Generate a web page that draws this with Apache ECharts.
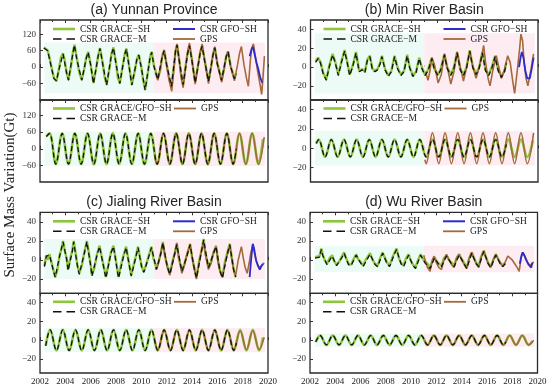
<!DOCTYPE html>
<html>
<head>
<meta charset="utf-8">
<script src="https://cdn.jsdelivr.net/npm/echarts@6/dist/echarts.min.js"></script>
<style>
  html, body { margin: 0; background: #fff; }
  #chart { width: 550px; height: 386px; }
</style>
</head>
<body>
<div id="chart"></div>
<script>
// ---- (a) Yunnan Province ----
const aSH = [[2002.3,72],[2002.45,74],[2002.6,62],[2002.75,35],[2002.95,-10],[2003.1,-40],[2003.3,-52],[2003.5,-5],[2003.65,35],[2003.82,50],[2003.95,25],[2004.1,-20],[2004.25,-46],[2004.45,5],[2004.6,55],[2004.72,82],[2004.9,35],[2005.1,-20],[2005.3,-46],[2005.5,-5],[2005.65,35],[2005.8,56],[2006.0,10],[2006.22,-58],[2006.45,0],[2006.6,45],[2006.74,70],[2006.95,15],[2007.1,-35],[2007.26,-64],[2007.5,0],[2007.65,50],[2007.8,72],[2008.0,15],[2008.15,-40],[2008.3,-58],[2008.55,10],[2008.7,50],[2008.82,68],[2009.0,15],[2009.25,-64],[2009.5,-10],[2009.65,30],[2009.8,45],[2010.0,0],[2010.15,-50],[2010.3,-82],[2010.55,-10],[2010.7,40],[2010.82,56],[2011.0,5],[2011.3,-42],[2011.5,-10],[2011.65,40],[2011.8,63],[2012.0,10],[2012.2,-40],[2012.38,-68],[2012.6,15],[2012.7,60],[2012.82,82],[2013.0,25],[2013.15,-30],[2013.3,-62],[2013.5,5],[2013.65,50],[2013.8,80],[2014.0,25],[2014.25,-55],[2014.45,0],[2014.65,55],[2014.8,78],[2015.0,25],[2015.3,-50],[2015.5,0],[2015.65,45],[2015.8,72],[2016.0,15],[2016.33,-46],[2016.55,0],[2016.7,40],[2016.85,57],[2017.05,5],[2017.35,-40],[2017.5,-22]];
const aM = [[2002.3,70],[2002.45,72],[2002.6,60],[2002.75,30],[2003.1,-42],[2003.3,-50],[2003.5,-8],[2003.82,48],[2004.1,-22],[2004.25,-48],[2004.6,52],[2004.72,80],[2004.9,30],[2005.3,-48],[2005.65,32],[2005.8,54],[2006.0,8],[2006.22,-60],[2006.6,42],[2006.74,68],[2006.95,12],[2007.26,-66],[2007.65,48],[2007.8,70],[2008.0,12],[2008.3,-60],[2008.7,48],[2008.82,66],[2009.0,12],[2009.25,-66],[2009.65,28],[2009.8,44],[2010.0,-2],[2010.3,-84],[2010.7,38],[2010.82,54],[2011.0,2],[2011.3,-45],[2011.65,38],[2011.8,60],[2012.0,8],[2012.38,-70],[2012.7,58],[2012.82,80],[2013.0,22],[2013.3,-64],[2013.65,48],[2013.8,78],[2014.0,22],[2014.25,-57],[2014.65,52],[2014.8,76],[2015.0,22],[2015.3,-52],[2015.65,42],[2015.8,70],[2016.0,12],[2016.33,-48],[2016.7,38],[2016.85,55],[2017.05,2],[2017.35,-42],[2017.5,-25]];
const aGPS = [[2011.1,-20],[2011.3,-48],[2011.5,-5],[2011.65,40],[2011.8,60],[2012.0,5],[2012.2,-50],[2012.4,-88],[2012.55,-20],[2012.7,60],[2012.82,85],[2013.0,20],[2013.15,-40],[2013.3,-75],[2013.5,0],[2013.65,55],[2013.8,88],[2014.0,25],[2014.25,-62],[2014.45,-5],[2014.65,55],[2014.8,85],[2015.0,25],[2015.3,-60],[2015.5,-5],[2015.65,45],[2015.8,75],[2016.0,10],[2016.35,-55],[2016.55,-5],[2016.7,40],[2016.85,58],[2017.05,0],[2017.35,-50],[2017.6,10],[2017.75,50],[2017.9,75],[2018.1,10],[2018.3,-40],[2018.45,-70],[2018.6,20],[2018.72,70],[2018.85,85],[2019.0,40],[2019.2,-20],[2019.4,-70],[2019.5,-100],[2019.6,-40],[2019.72,40]];
const aGFO = [[2018.55,40],[2018.7,65],[2018.82,74],[2018.95,45],[2019.1,15],[2019.25,-10],[2019.4,-40],[2019.55,-57]];
const aFitSH = [[2002.5,45],[2002.75,56],[2003.25,-55],[2003.75,55],[2004.25,-55],[2004.75,56],[2005.25,-55],[2005.75,55],[2006.25,-56],[2006.75,55],[2007.25,-55],[2007.75,56],[2008.25,-55],[2008.75,55],[2009.25,-55],[2009.75,55],[2010.25,-56],[2010.75,55],[2011.25,-55],[2011.75,55],[2012.25,-55],[2012.75,56],[2013.25,-55],[2013.75,55],[2014.25,-55],[2014.75,55],[2015.25,-56],[2015.75,55],[2016.25,-55],[2016.75,55],[2017.25,-55],[2017.75,55],[2018.25,-55],[2018.75,55],[2019.25,-55],[2019.6,35]];
const aFitM = [[2002.5,44],[2002.75,55],[2003.25,-55],[2003.75,55],[2004.25,-55],[2004.75,55],[2005.25,-55],[2005.75,55],[2006.25,-55],[2006.75,55],[2007.25,-55],[2007.75,55],[2008.25,-55],[2008.75,55],[2009.25,-55],[2009.75,55],[2010.25,-55],[2010.75,55],[2011.25,-55],[2011.75,55],[2012.25,-55],[2012.75,55],[2013.25,-55],[2013.75,55],[2014.25,-55],[2014.75,55],[2015.25,-55],[2015.75,55],[2016.25,-55],[2016.75,55],[2017.25,-55],[2017.5,0]];
const aFitGPS = [[2011.05,-30],[2011.25,-56],[2011.75,56],[2012.25,-56],[2012.75,56],[2013.25,-56],[2013.75,56],[2014.25,-56],[2014.75,56],[2015.25,-56],[2015.75,56],[2016.25,-56],[2016.75,56],[2017.25,-56],[2017.75,56],[2018.25,-56],[2018.75,56],[2019.25,-56],[2019.7,42]];

// ---- (b) Min River Basin ----
const bSH = [[2002.4,6],[2002.6,10],[2002.8,5],[2003.0,-6],[2003.25,-13],[2003.5,2],[2003.75,14],[2003.95,6],[2004.2,-8],[2004.45,6],[2004.7,18],[2004.9,6],[2005.1,-8],[2005.35,2],[2005.6,16],[2005.85,-4],[2006.1,-2],[2006.3,-5],[2006.5,8],[2006.7,12],[2006.9,-2],[2007.1,-4],[2007.3,-2],[2007.5,4],[2007.65,12],[2007.9,-2],[2008.15,-9],[2008.4,-4],[2008.65,12],[2008.9,-1],[2009.15,-8],[2009.4,-4],[2009.65,13],[2009.85,0],[2010.1,-9],[2010.35,-5],[2010.6,10],[2010.8,0],[2011.05,-8],[2011.3,-3],[2011.6,10],[2011.8,-2],[2012.1,-8],[2012.3,-2],[2012.6,14],[2012.8,0],[2013.1,-8],[2013.35,0],[2013.6,16],[2013.85,-2],[2014.1,-8],[2014.35,0],[2014.6,18],[2014.85,0],[2015.1,-7],[2015.35,0],[2015.6,16],[2015.85,-3],[2016.1,-8],[2016.35,0],[2016.6,12],[2016.85,-3],[2017.1,-10],[2017.35,-4],[2017.5,5]];
const bM = [[2002.4,5],[2002.6,9],[2002.8,4],[2003.0,-7],[2003.25,-14],[2003.5,1],[2003.75,13],[2003.95,5],[2004.2,-9],[2004.45,5],[2004.7,17],[2004.9,5],[2005.1,-9],[2005.35,1],[2005.6,15],[2005.85,-5],[2006.1,-3],[2006.3,-6],[2006.5,7],[2006.7,11],[2006.9,-3],[2007.1,-5],[2007.3,-3],[2007.5,3],[2007.65,11],[2007.9,-3],[2008.15,-10],[2008.4,-5],[2008.65,11],[2008.9,-2],[2009.15,-9],[2009.4,-5],[2009.65,12],[2009.85,-1],[2010.1,-10],[2010.35,-6],[2010.6,9],[2010.8,-1],[2011.05,-9],[2011.3,-4],[2011.6,9],[2011.8,-3],[2012.1,-9],[2012.3,-3],[2012.6,13],[2012.8,-1],[2013.1,-9],[2013.35,-1],[2013.6,15],[2013.85,-3],[2014.1,-9],[2014.35,-1],[2014.6,17],[2014.85,-1],[2015.1,-8],[2015.35,-1],[2015.6,15],[2015.85,-4],[2016.1,-9],[2016.35,-1],[2016.6,11],[2016.85,-4],[2017.1,-11],[2017.35,-5],[2017.5,4]];
const bGPS = [[2011.1,-5],[2011.3,-14],[2011.45,-4],[2011.6,10],[2011.8,3],[2012.1,-17],[2012.35,-8],[2012.6,14],[2012.85,-2],[2013.1,-18],[2013.35,-5],[2013.6,16],[2013.85,0],[2014.1,-15],[2014.35,0],[2014.6,16],[2014.85,0],[2015.1,-12],[2015.35,0],[2015.55,12],[2015.7,23],[2015.85,5],[2016.05,-12],[2016.2,-20],[2016.45,-2],[2016.7,12],[2016.9,0],[2017.1,-12],[2017.35,-3],[2017.6,12],[2017.8,5],[2018.0,-15],[2018.15,-28],[2018.35,-5],[2018.55,20],[2018.65,35],[2018.78,28],[2018.9,5],[2019.05,-12],[2019.2,-20],[2019.45,-2],[2019.65,14]];
const bGFO = [[2018.5,0],[2018.62,10],[2018.72,16],[2018.85,10],[2019.0,-4],[2019.15,-12],[2019.35,-12],[2019.5,-2],[2019.65,10]];
const bFitSH = [[2002.45,5],[2002.65,9],[2003.15,-9],[2003.65,9],[2004.15,-9],[2004.65,9],[2005.15,-9],[2005.65,9],[2006.15,-9],[2006.65,9],[2007.15,-9],[2007.65,9],[2008.15,-9],[2008.65,9],[2009.15,-9],[2009.65,9],[2010.15,-9],[2010.65,9],[2011.15,-9],[2011.65,9],[2012.15,-9],[2012.65,9],[2013.15,-9],[2013.65,9],[2014.15,-9],[2014.65,9],[2015.15,-9],[2015.65,9],[2016.15,-9],[2016.65,9],[2017.15,-9],[2017.65,9],[2018.15,-9],[2018.65,9],[2019.15,-9],[2019.6,8]];
const bFitM = [[2002.45,5],[2002.65,9],[2003.15,-9],[2003.65,9],[2004.15,-9],[2004.65,9],[2005.15,-9],[2005.65,9],[2006.15,-9],[2006.65,9],[2007.15,-9],[2007.65,9],[2008.15,-9],[2008.65,9],[2009.15,-9],[2009.65,9],[2010.15,-9],[2010.65,9],[2011.15,-9],[2011.65,9],[2012.15,-9],[2012.65,9],[2013.15,-9],[2013.65,9],[2014.15,-9],[2014.65,9],[2015.15,-9],[2015.65,9],[2016.15,-9],[2016.65,9],[2017.15,-9],[2017.5,4]];
const bFitGPS = [[2011.05,-12],[2011.15,-16],[2011.65,16],[2012.15,-16],[2012.65,16],[2013.15,-16],[2013.65,16],[2014.15,-16],[2014.65,16],[2015.15,-16],[2015.65,16],[2016.15,-16],[2016.65,16],[2017.15,-16],[2017.65,16],[2018.15,-16],[2018.65,16],[2019.15,-16],[2019.65,16]];

// ---- (c) Jialing River Basin ----
const cSH = [[2002.35,-6],[2002.5,5],[2002.6,0],[2002.75,6],[2002.9,-2],[2003.05,-10],[2003.2,-18],[2003.35,-12],[2003.55,5],[2003.7,12],[2003.82,20],[2003.95,10],[2004.1,2],[2004.22,-10],[2004.4,2],[2004.55,10],[2004.66,20],[2004.8,8],[2004.95,-5],[2005.1,-14],[2005.3,-6],[2005.5,8],[2005.7,20],[2005.85,8],[2006.0,-5],[2006.1,-16],[2006.3,-8],[2006.5,6],[2006.7,15],[2006.85,5],[2007.05,-8],[2007.2,-18],[2007.4,-5],[2007.6,8],[2007.8,15],[2007.95,3],[2008.2,-18],[2008.4,-5],[2008.6,5],[2008.8,14],[2008.95,2],[2009.2,-16],[2009.4,-5],[2009.55,3],[2009.74,14],[2009.9,2],[2010.05,-8],[2010.2,-12],[2010.4,-4],[2010.6,5],[2010.8,14],[2010.95,2],[2011.2,-9],[2011.4,0],[2011.55,8],[2011.7,19],[2011.85,5],[2012.05,-6],[2012.25,-14],[2012.45,-2],[2012.65,8],[2012.8,17],[2012.95,2],[2013.2,-11],[2013.4,-4],[2013.6,5],[2013.85,17],[2014.0,3],[2014.15,-6],[2014.35,-18],[2014.55,-2],[2014.75,10],[2014.92,22],[2015.05,8],[2015.3,-7],[2015.5,-2],[2015.7,8],[2015.9,15],[2016.05,0],[2016.2,-10],[2016.4,-18],[2016.6,-2],[2016.8,8],[2016.98,17],[2017.15,2],[2017.3,-10],[2017.45,-18]];
const cM = [[2002.35,-7],[2002.5,4],[2002.75,5],[2003.05,-11],[2003.2,-18],[2003.55,4],[2003.82,19],[2004.1,1],[2004.22,-11],[2004.55,9],[2004.66,19],[2004.95,-6],[2005.1,-15],[2005.5,7],[2005.7,19],[2006.0,-6],[2006.1,-17],[2006.5,5],[2006.7,14],[2007.05,-9],[2007.2,-19],[2007.6,7],[2007.8,14],[2008.2,-19],[2008.6,4],[2008.8,13],[2009.2,-17],[2009.55,2],[2009.74,13],[2010.05,-9],[2010.2,-13],[2010.6,4],[2010.8,13],[2011.2,-10],[2011.55,7],[2011.7,18],[2012.05,-7],[2012.25,-15],[2012.65,7],[2012.8,16],[2013.2,-12],[2013.6,4],[2013.85,16],[2014.15,-7],[2014.35,-19],[2014.75,9],[2014.92,21],[2015.3,-8],[2015.7,7],[2015.9,14],[2016.2,-11],[2016.4,-19],[2016.8,7],[2016.98,16],[2017.3,-11],[2017.45,-18]];
const cGPS = [[2011.1,-10],[2011.3,-6],[2011.5,5],[2011.7,18],[2011.85,6],[2012.05,-8],[2012.25,-16],[2012.45,-4],[2012.65,8],[2012.8,18],[2012.95,4],[2013.2,-14],[2013.4,-6],[2013.6,6],[2013.85,16],[2014.0,4],[2014.15,-8],[2014.35,-20],[2014.55,-4],[2014.75,10],[2014.92,18],[2015.05,6],[2015.3,-10],[2015.5,-4],[2015.7,8],[2015.9,14],[2016.05,-2],[2016.2,-12],[2016.4,-18],[2016.6,-4],[2016.8,6],[2016.98,15],[2017.15,0],[2017.3,-12],[2017.45,-16],[2017.65,0],[2017.9,14],[2018.05,2],[2018.2,-8],[2018.36,-14],[2018.5,-4],[2018.65,8],[2018.8,16],[2018.95,6],[2019.1,-2],[2019.3,-8],[2019.5,-6],[2019.7,-3]];
const cGFO = [[2018.55,-18],[2018.7,5],[2018.8,17],[2018.9,12],[2019.05,0],[2019.2,-6],[2019.35,-10],[2019.5,-6],[2019.6,-4]];
const cFitSH = [[2002.45,-6],[2002.8,11],[2003.3,-11],[2003.8,11],[2004.3,-11],[2004.8,11],[2005.3,-11],[2005.8,11],[2006.3,-11],[2006.8,11],[2007.3,-11],[2007.8,11],[2008.3,-11],[2008.8,11],[2009.3,-11],[2009.8,11],[2010.3,-11],[2010.8,11],[2011.3,-11],[2011.8,11],[2012.3,-11],[2012.8,11],[2013.3,-11],[2013.8,11],[2014.3,-11],[2014.8,11],[2015.3,-11],[2015.8,11],[2016.3,-11],[2016.8,11],[2017.3,-11],[2017.8,11],[2018.3,-11],[2018.8,11],[2019.3,-11],[2019.6,3]];
const cFitM = [[2002.45,-6],[2002.8,11],[2003.3,-11],[2003.8,11],[2004.3,-11],[2004.8,11],[2005.3,-11],[2005.8,11],[2006.3,-11],[2006.8,11],[2007.3,-11],[2007.8,11],[2008.3,-11],[2008.8,11],[2009.3,-11],[2009.8,11],[2010.3,-11],[2010.8,11],[2011.3,-11],[2011.8,11],[2012.3,-11],[2012.8,11],[2013.3,-11],[2013.8,11],[2014.3,-11],[2014.8,11],[2015.3,-11],[2015.8,11],[2016.3,-11],[2016.8,11],[2017.3,-11],[2017.5,-3]];
const cFitGPS = [[2011.05,0],[2011.3,-10],[2011.8,10],[2012.3,-10],[2012.8,10],[2013.3,-10],[2013.8,10],[2014.3,-10],[2014.8,10],[2015.3,-10],[2015.8,10],[2016.3,-10],[2016.8,10],[2017.3,-10],[2017.8,10],[2018.3,-10],[2018.8,10],[2019.3,-10],[2019.7,3]];

// ---- (d) Wu River Basin ----
const dSH = [[2002.4,3],[2002.55,5],[2002.75,4],[2002.9,12],[2003.0,6],[2003.15,0],[2003.35,-4],[2003.55,2],[2003.75,5],[2003.9,-1],[2004.1,-5],[2004.3,-2],[2004.5,3],[2004.7,8],[2004.85,2],[2005.05,-4],[2005.25,-5],[2005.45,1],[2005.65,6],[2005.8,1],[2006.0,-2],[2006.2,-6],[2006.4,0],[2006.6,4],[2006.75,7],[2006.95,0],[2007.15,-4],[2007.35,-6],[2007.55,2],[2007.75,8],[2007.9,3],[2008.1,-3],[2008.3,-6],[2008.5,2],[2008.7,8],[2008.85,12],[2009.0,3],[2009.2,-3],[2009.4,-6],[2009.6,2],[2009.8,6],[2009.95,0],[2010.15,-5],[2010.35,-8],[2010.55,0],[2010.75,6],[2010.9,2],[2011.1,-2],[2011.3,-4],[2011.5,-8],[2011.7,0],[2011.85,3],[2012.0,-1],[2012.2,-4],[2012.4,-6],[2012.6,2],[2012.8,5],[2013.0,0],[2013.2,-3],[2013.4,-6],[2013.6,2],[2013.8,6],[2014.0,1],[2014.2,-3],[2014.4,-8],[2014.6,2],[2014.8,8],[2014.95,3],[2015.15,-3],[2015.35,-6],[2015.55,4],[2015.75,10],[2015.9,4],[2016.1,-3],[2016.3,-7],[2016.5,0],[2016.7,6],[2016.85,2],[2017.05,-3],[2017.25,-6],[2017.45,-3]];
const dM = [[2002.4,2],[2002.55,4],[2002.75,3],[2002.9,11],[2003.0,5],[2003.35,-5],[2003.75,4],[2004.1,-6],[2004.5,2],[2004.7,7],[2005.05,-5],[2005.25,-6],[2005.65,5],[2006.0,-3],[2006.2,-7],[2006.75,6],[2007.15,-5],[2007.35,-7],[2007.75,7],[2008.1,-4],[2008.3,-7],[2008.7,7],[2008.85,11],[2009.2,-4],[2009.4,-7],[2009.8,5],[2010.15,-6],[2010.35,-9],[2010.75,5],[2011.1,-3],[2011.5,-9],[2011.85,2],[2012.2,-5],[2012.4,-7],[2012.8,4],[2013.2,-4],[2013.4,-7],[2013.8,5],[2014.2,-4],[2014.4,-9],[2014.8,7],[2015.15,-4],[2015.35,-7],[2015.75,9],[2016.1,-4],[2016.3,-8],[2016.7,5],[2017.05,-4],[2017.25,-7],[2017.45,-4]];
const dGPS = [[2011.0,5],[2011.15,-2],[2011.3,-8],[2011.5,-12],[2011.65,-2],[2011.8,4],[2012.0,-3],[2012.2,-8],[2012.4,-10],[2012.6,0],[2012.8,6],[2013.0,0],[2013.2,-5],[2013.4,-8],[2013.6,2],[2013.8,6],[2014.0,0],[2014.2,-5],[2014.4,-9],[2014.6,2],[2014.8,8],[2014.95,2],[2015.15,-4],[2015.35,-8],[2015.55,3],[2015.75,9],[2015.9,3],[2016.1,-4],[2016.3,-8],[2016.5,0],[2016.7,6],[2016.85,2],[2017.05,-3],[2017.25,-7],[2017.45,-2],[2017.65,4],[2017.8,6],[2018.0,0],[2018.2,-4],[2018.4,-8],[2018.55,-12],[2018.7,2],[2018.85,8],[2019.0,4],[2019.2,-2],[2019.4,-6],[2019.55,-5],[2019.7,-2]];
const dGFO = [[2018.6,-4],[2018.72,4],[2018.82,8],[2018.95,5],[2019.1,0],[2019.3,-5],[2019.5,-8],[2019.6,-3]];
const dFitSH = [[2002.45,-2],[2002.8,5],[2003.3,-5],[2003.8,5],[2004.3,-5],[2004.8,5],[2005.3,-5],[2005.8,5],[2006.3,-5],[2006.8,5],[2007.3,-5],[2007.8,5],[2008.3,-5],[2008.8,5],[2009.3,-5],[2009.8,5],[2010.3,-5],[2010.8,5],[2011.3,-5],[2011.8,5],[2012.3,-5],[2012.8,5],[2013.3,-5],[2013.8,5],[2014.3,-5],[2014.8,5],[2015.3,-5],[2015.8,5],[2016.3,-5],[2016.8,5],[2017.3,-5],[2017.8,5],[2018.3,-5],[2018.8,5],[2019.3,-5],[2019.6,-1]];
const dFitM = [[2002.45,-2],[2002.8,5],[2003.3,-5],[2003.8,5],[2004.3,-5],[2004.8,5],[2005.3,-5],[2005.8,5],[2006.3,-5],[2006.8,5],[2007.3,-5],[2007.8,5],[2008.3,-5],[2008.8,5],[2009.3,-5],[2009.8,5],[2010.3,-5],[2010.8,5],[2011.3,-5],[2011.8,5],[2012.3,-5],[2012.8,5],[2013.3,-5],[2013.8,5],[2014.3,-5],[2014.8,5],[2015.3,-5],[2015.8,5],[2016.3,-5],[2016.8,5],[2017.3,-5],[2017.5,-2]];
const dFitGPS = [[2011.05,0],[2011.3,-5],[2011.8,5],[2012.3,-5],[2012.8,5],[2013.3,-5],[2013.8,5],[2014.3,-5],[2014.8,5],[2015.3,-5],[2015.8,5],[2016.3,-5],[2016.8,5],[2017.3,-5],[2017.8,5],[2018.3,-5],[2018.8,5],[2019.3,-5],[2019.7,0]];

// tick labels
const yTicksYunnan = [-60, 0, 60, 120];
const yTicksBasin = [-20, 0, 20, 40];
const yearMin = 2002, yearMax = 2020, yearStep = 2;

const NAME = { sh: 'CSR GRACE−SH', m: 'CSR GRACE−M', gfo: 'CSR GFO−SH', gps: 'GPS', fit: 'CSR GRACE/GFO−SH' };
const COL = { sh: '#8cc63e', m: '#111111', gfo: '#2b2bcc', gps: '#a4693c' };
const SERIF = '"Liberation Serif", "DejaVu Serif", serif';

// legend icons: plain strokes (no symbol), dashed for GRACE-M
const ICON = {};
ICON[NAME.sh] = 'path://M0,0M22,10M0,3.7h22v2.6h-22z';
ICON[NAME.fit] = ICON[NAME.sh];
ICON[NAME.gfo] = 'path://M0,0M22,10M0,4h22v2h-22z';
ICON[NAME.gps] = 'path://M0,0M22,10M0,4.1h22v1.8h-22z';
ICON[NAME.m] = 'path://M0,0M22,10M0,4.3h8.5v1.4h-8.5zM13.5,4.3h8.5v1.4h-8.5z';

const panels = [
  { title: '(a) Yunnan Province', left: 40, width: 228, top: 20, h: [80, 82], yr: [[-120, 172], [-120, 176]], ticks: yTicksYunnan,
    top_: { sh: aSH, m: aM, gps: aGPS, gfo: aGFO }, bot: { sh: aFitSH, m: aFitM, gps: aFitGPS }, shade: [[-95, 90], [-62, 62]] },
  { title: '(b) Min River Basin', left: 310.5, width: 227.5, top: 20, h: [80, 82], yr: [[-35, 50], [-35, 50]], ticks: yTicksBasin,
    top_: { sh: bSH, m: bM, gps: bGPS, gfo: bGFO }, bot: { sh: bFitSH, m: bFitM, gps: bFitGPS }, shade: [[-28, 36], [-18, 18]] },
  { title: '(c) Jialing River Basin', left: 40, width: 228, top: 212.3, h: [81, 80.7], yr: [[-35, 50], [-35, 50]], ticks: yTicksBasin,
    top_: { sh: cSH, m: cM, gps: cGPS, gfo: cGFO }, bot: { sh: cFitSH, m: cFitM, gps: cFitGPS }, shade: [[-20, 22], [-13, 13]] },
  { title: '(d) Wu River Basin', left: 310, width: 227.5, top: 212.3, h: [81, 80.7], yr: [[-35, 50], [-35, 50]], ticks: yTicksBasin,
    top_: { sh: dSH, m: dM, gps: dGPS, gfo: dGFO }, bot: { sh: dFitSH, m: dFitM, gps: dFitGPS }, shade: [[-13, 15], [-7, 7]] }
];

const grid = [], xAxis = [], yAxis = [], series = [], legend = [], graphic = [];
const minus = v => String(v).replace('-', '−');

function line(name, data, gi, color, width, extra) {
  return Object.assign({
    type: 'line', name, data, xAxisIndex: gi * 2, yAxisIndex: gi,
    symbol: 'none', showSymbol: false, silent: true, animation: false,
    lineStyle: { color, width }, itemStyle: { color }
  }, extra || {});
}

function legendCol(names, left, top) {
  return {
    orient: 'vertical', left, top, padding: 0, itemGap: 0, itemWidth: 22, itemHeight: 10,
    selectedMode: false, itemStyle: { borderWidth: 0 },
    data: names.map(n => ({ name: n, icon: ICON[n] })),
    textStyle: { fontFamily: SERIF, fontSize: 9.5, color: '#222', lineHeight: 10 }
  };
}

panels.forEach((p, pi) => {
  graphic.push({
    type: 'text', x: p.left + p.width / 2, y: p.top - 10, z: 1000,
    style: { text: p.title, font: '14px "Liberation Sans", Arial, sans-serif', fill: '#222',
      align: 'center', verticalAlign: 'middle', textAlign: 'center', textVerticalAlign: 'middle' }
  });
  [0, 1].forEach(s => {
    const gi = pi * 2 + s;
    const gTop = s === 0 ? p.top : p.top + p.h[0];
    grid.push({ left: p.left, top: gTop, width: p.width, height: p.h[s], show: true,
      borderColor: '#2a2a2a', borderWidth: 1.3, backgroundColor: 'transparent' });
    const xBase = {
      gridIndex: gi, type: 'value', min: yearMin, max: yearMax, interval: yearStep,
      axisLine: { show: false }, splitLine: { show: false },
      axisTick: { inside: true, length: 3, lineStyle: { color: '#333' } },
      minorTick: { show: true, splitNumber: 2, length: 2, lineStyle: { color: '#333' } }
    };
    xAxis.push(Object.assign({}, xBase, { position: 'bottom',
      axisLabel: { show: pi >= 2 && s === 1, formatter: v => String(v), fontFamily: SERIF, fontSize: 9, color: '#222', margin: 4 } }));
    xAxis.push(Object.assign({}, xBase, { position: 'top', axisLabel: { show: false } }));
    // tick labels of the value axes are placed below through the axis scale (convertToPixel)
    yAxis.push({
      gridIndex: gi, type: 'value', min: p.yr[s][0], max: p.yr[s][1],
      axisLine: { show: false }, splitLine: { show: false },
      axisTick: { inside: true, length: 3, customValues: p.ticks, lineStyle: { color: '#333' } },
      axisLabel: { show: false }
    });

    const sh = s === 0 ? p.shade[0] : p.shade[1];
    const markArea = {
      silent: true,
      data: [
        [{ xAxis: 2002.35, yAxis: sh[0], itemStyle: { color: '#ecfbf6' } }, { xAxis: 2011, yAxis: sh[1] }],
        [{ xAxis: 2011, yAxis: sh[0], itemStyle: { color: '#fdedf2' } }, { xAxis: 2019.75, yAxis: sh[1] }]
      ]
    };
    if (s === 0) {
      const d = p.top_;
      series.push(line(NAME.sh, d.sh, gi, COL.sh, 2.4, { markArea }));
      series.push(line(NAME.gps, d.gps, gi, COL.gps, 1.6));
      series.push(line(NAME.gfo, d.gfo, gi, COL.gfo, 1.8));
      series.push(line(NAME.m, d.m, gi, COL.m, 1.3, { lineStyle: { color: COL.m, width: 1.3, type: [5, 3] } }));
      legend.push(legendCol([NAME.sh, NAME.m], p.left + 13, gTop + 4));
      legend.push(legendCol([NAME.gfo, NAME.gps], p.left + 133, gTop + 4));
    } else {
      const d = p.bot;
      series.push(line(NAME.fit, d.sh, gi, COL.sh, 2.6, { smooth: 0.36, markArea }));
      series.push(line(NAME.gps, d.gps, gi, COL.gps, 1.6, { smooth: 0.36 }));
      series.push(line(NAME.m, d.m, gi, COL.m, 1.3, { smooth: 0.36, lineStyle: { color: COL.m, width: 1.3, type: [5, 3] } }));
      legend.push(legendCol([NAME.fit, NAME.m], p.left + 13, gTop + 3.5));
      legend.push(legendCol([NAME.gps], p.left + 134, gTop + 3.5));
    }
  });
});

graphic.push({
  type: 'text', x: 10, y: 195, rotation: Math.PI / 2, z: 1000,
  style: { text: 'Surface Mass Variation(Gt)', font: '15px ' + SERIF, fill: '#222',
    align: 'center', verticalAlign: 'middle', textAlign: 'center', textVerticalAlign: 'middle' }
});

const chart = echarts.init(document.getElementById('chart'), null, { renderer: 'canvas' });
chart.setOption({
  animation: false,
  backgroundColor: '#fff',
  grid, xAxis, yAxis, series, legend, graphic
});

// value-axis tick labels, positioned with the axis scale of each grid, drawn on top
panels.forEach((p, pi) => {
  [0, 1].forEach(s => {
    const gi = pi * 2 + s;
    p.ticks.forEach(v => {
      const pt = chart.convertToPixel({ xAxisIndex: gi * 2, yAxisIndex: gi }, [yearMin, v]);
      graphic.push({
        type: 'text', x: pt[0] - 4, y: pt[1], silent: true, z: 1000,
        style: { text: minus(v), font: '9px ' + SERIF, fill: '#333',
          align: 'right', verticalAlign: 'middle', textAlign: 'right', textVerticalAlign: 'middle' }
      });
    });
  });
});
chart.setOption({ graphic });
</script>
</body>
</html>
